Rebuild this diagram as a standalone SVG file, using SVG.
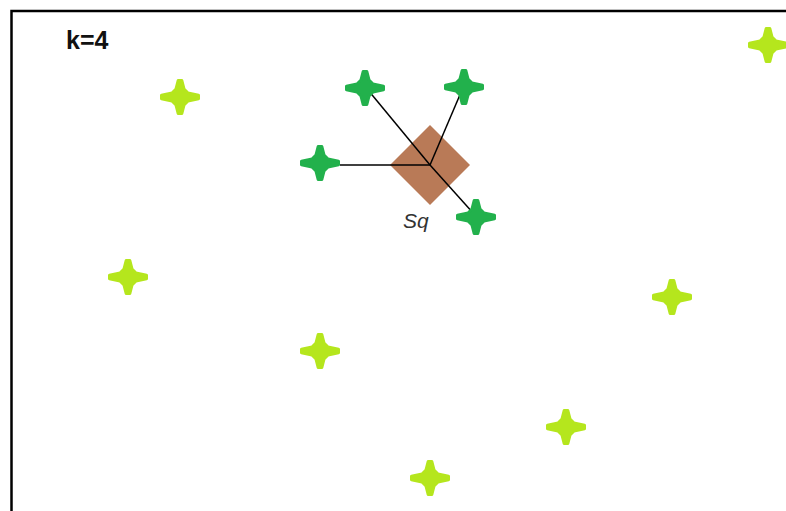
<svg xmlns="http://www.w3.org/2000/svg" width="786" height="511" viewBox="0 0 786 511">
<style>
.frame{fill:none;stroke:#000;stroke-width:2.5}
.lime{fill:#b5e61d;stroke:#b5e61d;stroke-width:3;stroke-linejoin:round}
.green{fill:#22b14c;stroke:#22b14c;stroke-width:3;stroke-linejoin:round}
.edge{stroke:#000;stroke-width:1.5}
.lbl{font-family:"Liberation Sans",Arial,sans-serif}
</style>
<defs>
<path id="star" d="M-1.8,-16.5 L1.8,-16.5 L4,-8 L8,-4 L18.5,-1.8 L18.5,1.8 L8,4 L4,8 L1.8,16.5 L-1.8,16.5 L-4,8 L-8,4 L-18.5,1.8 L-18.5,-1.8 L-8,-4 L-4,-8 Z"/>
</defs>
<rect class="frame" x="11.5" y="11" width="800" height="520"/>
<text class="lbl" x="66" y="49" font-size="25" font-weight="bold" fill="#111">k=4</text>
<g id="query">
<polygon points="430,125 470,165 430,205 390,165" fill="#b97a57"/>
<text class="lbl" x="403" y="228" font-size="21" font-style="italic" fill="#333">Sq</text>
</g>
<g id="edges">
<line class="edge" x1="430" y1="165" x2="340" y2="165"/>
<line class="edge" x1="430" y1="165" x2="368" y2="90"/>
<line class="edge" x1="430" y1="165" x2="462" y2="90"/>
<line class="edge" x1="430" y1="165" x2="474" y2="214"/>
</g>
<g id="neighbors">
<use href="#star" class="green" x="365" y="88"/>
<use href="#star" class="green" x="464" y="87"/>
<use href="#star" class="green" x="320" y="163"/>
<use href="#star" class="green" x="476" y="217"/>
</g>
<g id="others">
<use href="#star" class="lime" x="180" y="97"/>
<use href="#star" class="lime" x="768" y="45"/>
<use href="#star" class="lime" x="128" y="277"/>
<use href="#star" class="lime" x="320" y="351"/>
<use href="#star" class="lime" x="672" y="297"/>
<use href="#star" class="lime" x="566" y="427"/>
<use href="#star" class="lime" x="430" y="478"/>
</g>
</svg>
